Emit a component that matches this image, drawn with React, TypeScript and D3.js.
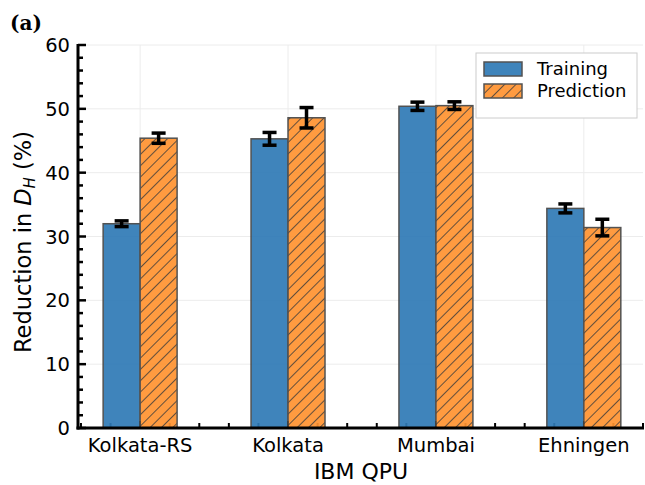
import React, { useEffect, useRef } from "react";
import * as d3 from "d3";

const categories = ["Kolkata-RS", "Kolkata", "Mumbai", "Ehningen"];
const training = [32.0, 45.3, 50.4, 34.4];
const trainingErr = [0.45, 1.0, 0.65, 0.7];
const prediction = [45.4, 48.6, 50.5, 31.4];
const predictionErr = [0.8, 1.6, 0.6, 1.3];
const yTicks = [0, 10, 20, 30, 40, 50, 60];

const WIDTH = 645;
const HEIGHT = 485;
const FONT = "DejaVu Sans, sans-serif";
const BLUE = "#2f7ab6";

const App = () => {
  const ref = useRef<SVGSVGElement>(null);

  useEffect(() => {
    const svg = d3.select(ref.current);
    svg.html("");

    const left = 78,
      right = 643,
      top = 45,
      bottom = 428;

    const x = d3.scaleLinear().domain([-0.42, 3.4]).range([left, right]);
    const y = d3.scaleLinear().domain([0, 60]).range([bottom, top]);
    const barW = x(0.25) - x(0);

    const defs = svg.append("defs");
    const pat = defs
      .append("pattern")
      .attr("id", "hatch")
      .attr("patternUnits", "userSpaceOnUse")
      .attr("width", 8)
      .attr("height", 8)
      .attr("patternTransform", "rotate(45)");
    pat
      .append("rect")
      .attr("width", 8)
      .attr("height", 8)
      .attr("fill", "#ff9330");
    pat
      .append("line")
      .attr("x1", 0)
      .attr("y1", 0)
      .attr("x2", 0)
      .attr("y2", 8)
      .attr("stroke", "#2a2a2a")
      .attr("stroke-width", 1.6);

    // grid
    const grid = svg.append("g").attr("stroke", "#ececec").attr("stroke-width", 1);
    yTicks.forEach(t => {
      grid.append("line").attr("x1", left).attr("x2", right).attr("y1", y(t)).attr("y2", y(t));
    });
    categories.forEach((c, i) => {
      grid.append("line").attr("x1", x(i)).attr("x2", x(i)).attr("y1", top).attr("y2", bottom);
    });

    // minor x ticks (drawn before bars so they show faintly through)
    const xt = svg.append("g").attr("stroke", "black").attr("stroke-width", 2);
    d3.range(-2, 18).forEach(k => {
      const v = k * 0.2;
      if (v < -0.42 || v > 3.41) return;
      const major = k % 5 === 0;
      xt
        .append("line")
        .attr("x1", x(v))
        .attr("x2", x(v))
        .attr("y1", bottom)
        .attr("y2", bottom - (major ? 7 : 5));
    });

    // bars
    const bars = svg.append("g").attr("opacity", 0.92);
    categories.forEach((c, i) => {
      bars
        .append("rect")
        .attr("x", x(i) - barW)
        .attr("y", y(training[i]))
        .attr("width", barW)
        .attr("height", y(0) - y(training[i]))
        .attr("fill", BLUE)
        .attr("stroke", "#444")
        .attr("stroke-width", 1.5);
      bars
        .append("rect")
        .attr("x", x(i))
        .attr("y", y(prediction[i]))
        .attr("width", barW)
        .attr("height", y(0) - y(prediction[i]))
        .attr("fill", "url(#hatch)")
        .attr("stroke", "#444")
        .attr("stroke-width", 1.5);
    });

    // error bars
    const eb = svg.append("g").attr("stroke", "black").attr("stroke-width", 3.5);
    const drawErr = (cx, v, e) => {
      eb.append("line").attr("x1", cx).attr("x2", cx).attr("y1", y(v - e)).attr("y2", y(v + e));
      [v - e, v + e].forEach(t => {
        eb.append("line").attr("x1", cx - 7).attr("x2", cx + 7).attr("y1", y(t)).attr("y2", y(t));
      });
    };
    categories.forEach((c, i) => {
      drawErr(x(i) - barW / 2, training[i], trainingErr[i]);
      drawErr(x(i) + barW / 2, prediction[i], predictionErr[i]);
    });

    // y ticks
    const yt = svg.append("g").attr("stroke", "black").attr("stroke-width", 2.5);
    d3.range(0, 61, 2).forEach(t => {
      const major = t % 10 === 0;
      yt
        .append("line")
        .attr("x1", left)
        .attr("x2", left + (major ? 8 : 5))
        .attr("y1", y(t))
        .attr("y2", y(t));
    });

    // axis lines
    svg
      .append("line")
      .attr("x1", left)
      .attr("x2", left)
      .attr("y1", top - 1)
      .attr("y2", bottom + 1.5)
      .attr("stroke", "black")
      .attr("stroke-width", 3);
    svg
      .append("line")
      .attr("x1", left - 1.5)
      .attr("x2", right + 1)
      .attr("y1", bottom)
      .attr("y2", bottom)
      .attr("stroke", "black")
      .attr("stroke-width", 3);

    // tick labels
    svg
      .append("g")
      .selectAll("text")
      .data(yTicks)
      .join("text")
      .attr("x", left - 8)
      .attr("y", d => y(d))
      .attr("dy", "0.36em")
      .attr("text-anchor", "end")
      .attr("font-family", FONT)
      .attr("font-size", 19.5)
      .text(d => d);
    svg
      .append("g")
      .selectAll("text")
      .data(categories)
      .join("text")
      .attr("x", (d, i) => x(i))
      .attr("y", 452)
      .attr("text-anchor", "middle")
      .attr("font-family", FONT)
      .attr("font-size", 19.5)
      .text(d => d);

    // axis titles
    svg
      .append("text")
      .attr("x", 361)
      .attr("y", 479)
      .attr("text-anchor", "middle")
      .attr("font-family", FONT)
      .attr("font-size", 22)
      .text("IBM QPU");
    const yl = svg
      .append("text")
      .attr("transform", `translate(31, 242) rotate(-90)`)
      .attr("text-anchor", "middle")
      .attr("font-family", FONT)
      .attr("font-size", 22.5);
    yl.append("tspan").text("Reduction in ");
    yl.append("tspan").attr("font-style", "italic").text("D");
    yl.append("tspan").attr("font-style", "italic").attr("font-size", 15).attr("dy", 4).text("H");
    yl.append("tspan").attr("dy", -4).text(" (%)");

    // panel label
    svg
      .append("text")
      .attr("x", 10)
      .attr("y", 30)
      .attr("font-family", "DejaVu Serif, serif")
      .attr("font-weight", "bold")
      .attr("font-size", 20)
      .text("(a)");

    // legend
    const lg = svg.append("g");
    lg.append("rect")
      .attr("x", 476)
      .attr("y", 53)
      .attr("width", 161)
      .attr("height", 65)
      .attr("fill", "white")
      .attr("stroke", "#ccc")
      .attr("stroke-width", 1);
    const items = [
      { label: "Training", fill: BLUE },
      { label: "Prediction", fill: "url(#hatch)" }
    ];
    items.forEach((it, i) => {
      const yy = 62 + i * 22;
      lg.append("rect")
        .attr("x", 484)
        .attr("y", yy)
        .attr("width", 38)
        .attr("height", 14)
        .attr("fill", it.fill)
        .attr("opacity", 0.92)
        .attr("stroke", "#444")
        .attr("stroke-width", 1.5);
      lg.append("text")
        .attr("x", 537)
        .attr("y", yy + 7)
        .attr("dy", "0.36em")
        .attr("font-family", FONT)
        .attr("font-size", 18)
        .text(it.label);
    });
  }, []);

  return (
    <svg
      ref={ref}
      width={WIDTH}
      height={HEIGHT}
      style={{ position: "absolute", left: 0, top: 0, background: "white" }}
    />
  );
};

export default App;
